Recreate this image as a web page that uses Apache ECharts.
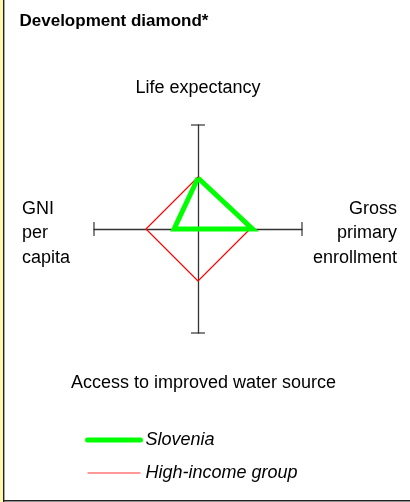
<!DOCTYPE html>
<html>
<head>
<meta charset="utf-8">
<script src="https://cdn.jsdelivr.net/npm/echarts@6/dist/echarts.min.js"></script>
<style>
html,body{margin:0;padding:0;background:#fff;}
#c{width:410px;height:502px;}
</style>
</head>
<body>
<div id="c"></div>
<script>
// Indicator order: top, right, bottom, left
const indicators = ['Life expectancy', 'Gross primary enrollment', 'Access to improved water source', 'GNI per capita'];
const sloveniaValues = [0.98, 1.05, 0, 0.46];
const highIncomeValues = [1, 1, 1, 1];
const axisMax = 2;
const seriesNames = ['Slovenia', 'High-income group'];

const dirs = [[0, 1], [1, 0], [0, -1], [-1, 0]];
function polygon(vals) {
  const pts = vals.map((v, i) => [dirs[i][0] * v, dirs[i][1] * v]);
  pts.push(pts[0].slice());
  return pts;
}
const capsVertical = [[0, axisMax], [0, -axisMax]];
const capsHorizontal = [[axisMax, 0], [-axisMax, 0]];

const FONT = "'Liberation Sans', Arial, sans-serif";
const chart = echarts.init(document.getElementById('c'), null, {renderer: 'canvas'});

const axisCommon = {
  type: 'value', min: -axisMax, max: axisMax,
  axisLine: {show: true, onZero: true, lineStyle: {color: '#333', width: 1.3}},
  axisTick: {show: false}, axisLabel: {show: false}, splitLine: {show: false}
};

chart.setOption({
  animation: false,
  backgroundColor: '#fff',
  grid: {left: 94, top: 125, width: 208, height: 208},
  xAxis: axisCommon,
  yAxis: axisCommon,
  legend: {
    orient: 'vertical', left: 85, top: 431, padding: 0, itemGap: 15,
    itemWidth: 53, itemHeight: 18,
    textStyle: {fontFamily: FONT, fontSize: 18, fontStyle: 'italic', color: '#000'},
    data: [
      {name: seriesNames[0], lineStyle: {width: 5, color: '#00ff00', cap: 'round'}, itemStyle: {opacity: 0}},
      {name: seriesNames[1], lineStyle: {width: 1, color: '#ff3333'}, itemStyle: {opacity: 0}}
    ]
  },
  graphic: [
    {type: 'rect', shape: {x: 0, y: 0, width: 3, height: 502}, style: {fill: '#fdf9a8'}},
    {type: 'rect', shape: {x: 3, y: 0, width: 1.4, height: 502}, style: {fill: '#222'}},
    {type: 'rect', shape: {x: 3, y: 500, width: 407, height: 1.6}, style: {fill: '#222'}},
    {type: 'text', x: 19.5, y: 21, style: {text: 'Development diamond*', font: "bold 17px " + FONT, fill: '#000', textVerticalAlign: 'middle'}},
    {type: 'text', x: 198, y: 88, style: {text: indicators[0], font: "18px " + FONT, fill: '#000', textAlign: 'center', textVerticalAlign: 'middle'}},
    {type: 'text', x: 397, y: 233.5, style: {text: 'Gross\nprimary\nenrollment', font: "18px " + FONT, lineHeight: 24.5, fill: '#000', textAlign: 'right', textVerticalAlign: 'middle'}},
    {type: 'text', x: 203.5, y: 383, style: {text: indicators[2], font: "18px " + FONT, fill: '#000', textAlign: 'center', textVerticalAlign: 'middle'}},
    {type: 'text', x: 22, y: 233.5, style: {text: 'GNI\nper\ncapita', font: "18px " + FONT, lineHeight: 24.5, fill: '#000', textAlign: 'left', textVerticalAlign: 'middle'}}
  ],
  series: [
    {type: 'scatter', silent: true, symbol: 'rect', symbolSize: [14, 1.5], itemStyle: {color: '#333'}, data: capsVertical, z: 1},
    {type: 'scatter', silent: true, symbol: 'rect', symbolSize: [1.5, 14], itemStyle: {color: '#333'}, data: capsHorizontal, z: 1},
    {name: seriesNames[1], type: 'line', symbol: 'none', silent: true, lineStyle: {color: '#ff0000', width: 1.1}, itemStyle: {color: '#ff0000'}, data: polygon(highIncomeValues), z: 2},
    {name: seriesNames[0], type: 'line', symbol: 'none', silent: true, lineStyle: {color: '#00ff00', width: 5, join: 'miter'}, itemStyle: {color: '#00ff00'}, data: polygon(sloveniaValues), z: 3}
  ]
});
</script>
</body>
</html>
